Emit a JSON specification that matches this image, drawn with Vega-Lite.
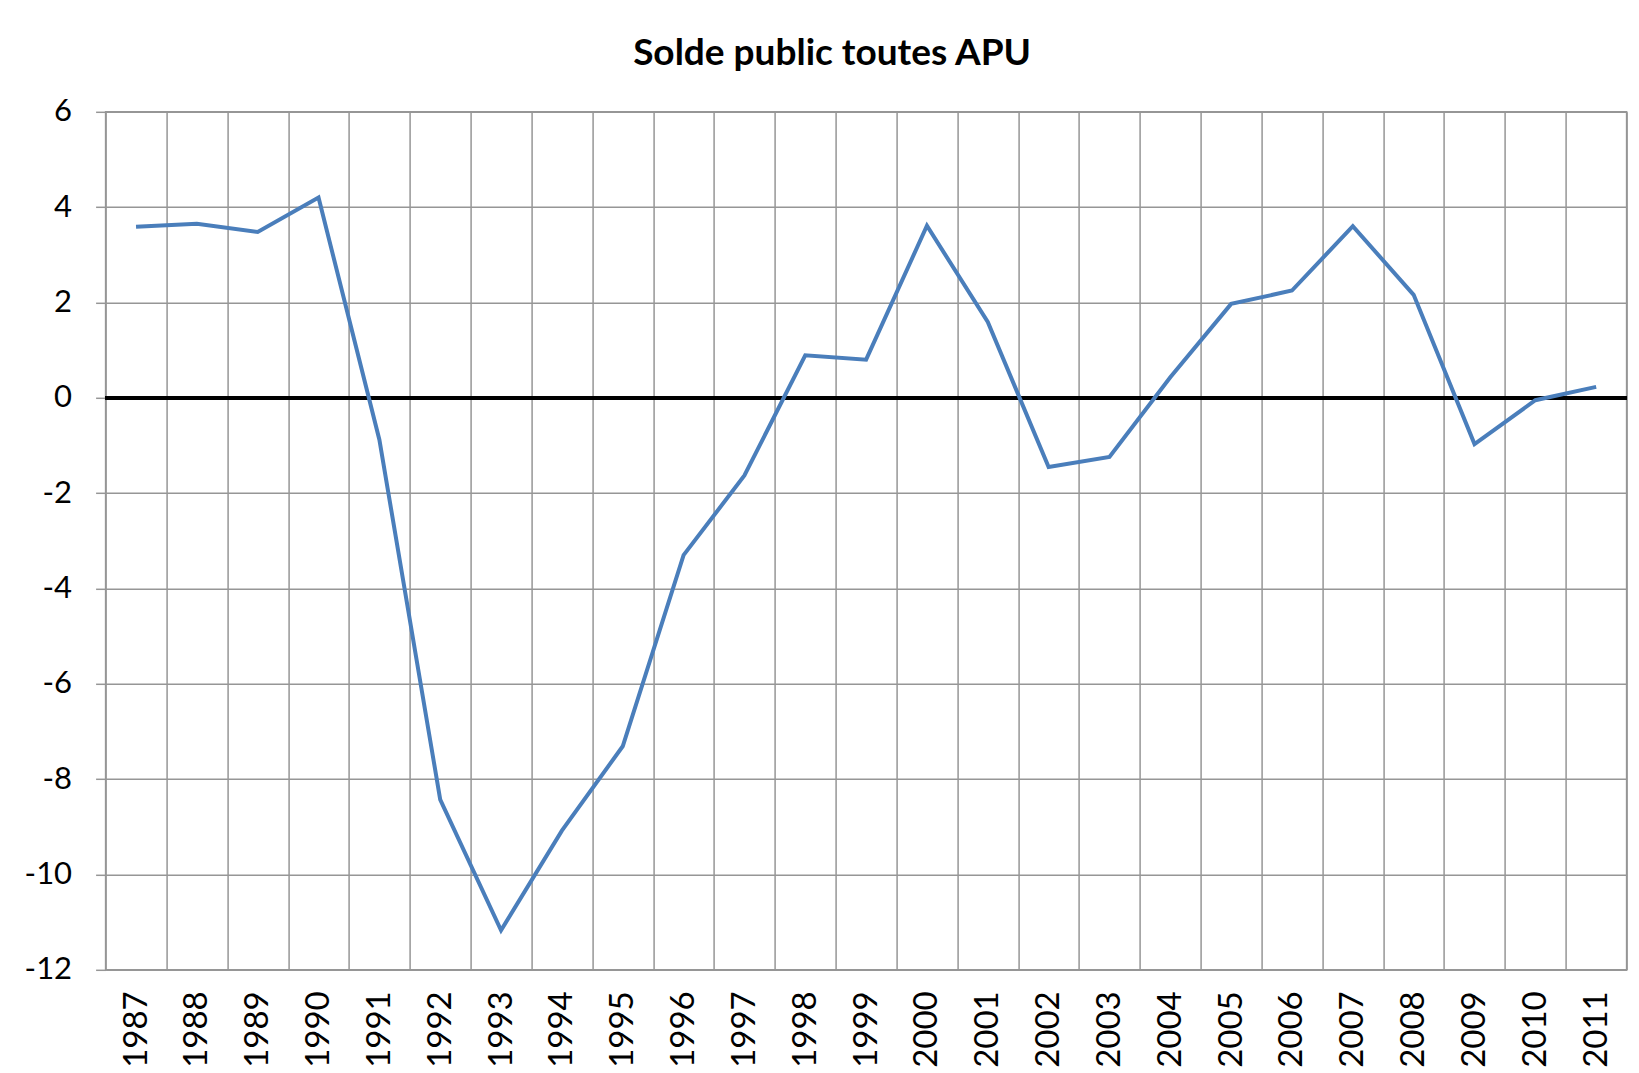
{
  "$schema": "https://vega.github.io/schema/vega-lite/v6.json",
  "autosize": {"type": "none"},
  "width": 1521,
  "height": 858,
  "padding": {"left": 105.6, "top": 111.8, "right": 12.4, "bottom": 103.2},
  "background": "white",
  "title": {
    "text": "Solde public toutes APU",
    "font": "Lato",
    "fontSize": 37,
    "fontWeight": "bold",
    "color": "black",
    "anchor": "middle",
    "baseline": "alphabetic",
    "offset": -6,
    "dx": -34
  },
  "config": {
    "view": {"stroke": "#969696", "strokeWidth": 1.5},
    "axis": {
      "labelFont": "Lato",
      "labelFontSize": 31,
      "labelColor": "black",
      "gridColor": "#969696",
      "gridWidth": 1.5,
      "gridOpacity": 1,
      "domain": false,
      "title": null
    }
  },
  "data": {
    "values": [
      {"year": "1987", "solde": 3.59},
      {"year": "1988", "solde": 3.65},
      {"year": "1989", "solde": 3.48},
      {"year": "1990", "solde": 4.2},
      {"year": "1991", "solde": -0.88},
      {"year": "1992", "solde": -8.43},
      {"year": "1993", "solde": -11.17},
      {"year": "1994", "solde": -9.08},
      {"year": "1995", "solde": -7.31},
      {"year": "1996", "solde": -3.3},
      {"year": "1997", "solde": -1.63},
      {"year": "1998", "solde": 0.89},
      {"year": "1999", "solde": 0.8},
      {"year": "2000", "solde": 3.61},
      {"year": "2001", "solde": 1.59},
      {"year": "2002", "solde": -1.45},
      {"year": "2003", "solde": -1.24},
      {"year": "2004", "solde": 0.43},
      {"year": "2005", "solde": 1.97},
      {"year": "2006", "solde": 2.25},
      {"year": "2007", "solde": 3.6},
      {"year": "2008", "solde": 2.16},
      {"year": "2009", "solde": -0.97},
      {"year": "2010", "solde": -0.05},
      {"year": "2011", "solde": 0.23}
    ]
  },
  "encoding": {
    "x": {
      "field": "year",
      "type": "ordinal",
      "scale": {"type": "band", "paddingInner": 0, "paddingOuter": 0},
      "axis": {
        "grid": true,
        "tickBand": "extent",
        "ticks": false,
        "tickSize": 0,
        "labelAngle": -90,
        "labelFontSize": 33,
        "labelPadding": 21
      }
    },
    "y": {
      "field": "solde",
      "type": "quantitative",
      "scale": {"domain": [-12, 6], "nice": false, "zero": false},
      "axis": {
        "values": [-12, -10, -8, -6, -4, -2, 0, 2, 4, 6],
        "labelExpr": "'' + datum.value",
        "grid": true,
        "ticks": true,
        "tickSize": 10,
        "tickColor": "#969696",
        "tickWidth": 1.5,
        "labelPadding": 24
      }
    }
  },
  "layer": [
    {
      "mark": {"type": "rule", "color": "black", "strokeWidth": 3},
      "encoding": {"y": {"datum": 0}, "x": null}
    },
    {
      "mark": {"type": "line", "color": "#4a7ebb", "strokeWidth": 4, "strokeJoin": "miter"}
    }
  ]
}
